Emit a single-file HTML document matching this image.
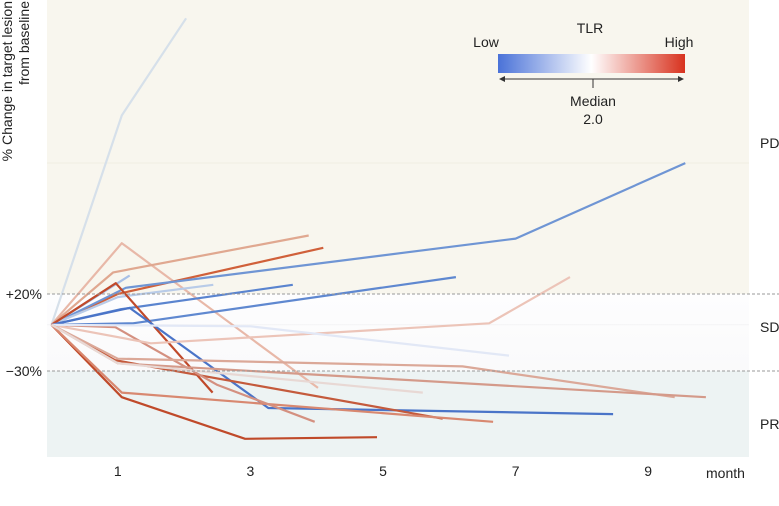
<!DOCTYPE html>
<html><head><meta charset="utf-8">
<style>
html,body{margin:0;padding:0;background:#fff;}
svg{display:block;font-family:"Liberation Sans",Arial,sans-serif;}
</style></head>
<body>
<svg id="chart" width="779" height="506" viewBox="0 0 779 506">
<defs>
<linearGradient id="sdg" x1="0" y1="0" x2="0" y2="1">
<stop offset="0" stop-color="#fdfdfe"/><stop offset="1" stop-color="#fafafb"/>
</linearGradient>
<linearGradient id="tlrg" x1="0" y1="0" x2="1" y2="0">
<stop offset="0" stop-color="#4a72d8"/><stop offset="0.5" stop-color="#ffffff"/><stop offset="1" stop-color="#d8321e"/>
</linearGradient>
</defs>
<g id="bands"></g>
<g id="lines"></g>
<g id="axes"></g>
<g>
<text x="590" y="33" font-size="14" text-anchor="middle" fill="#222">TLR</text>
<text x="486" y="47" font-size="14" text-anchor="middle" fill="#222">Low</text>
<text x="679" y="47" font-size="14" text-anchor="middle" fill="#222">High</text>
<rect x="498" y="54" width="187" height="19" fill="url(#tlrg)"/>
<line x1="500" y1="79" x2="683" y2="79" stroke="#333" stroke-width="1"/>
<path d="M499 79 l6 -3 v6 z M684 79 l-6 -3 v6 z" fill="#333"/>
<line x1="593" y1="79" x2="593" y2="88" stroke="#333" stroke-width="1"/>
<text x="593" y="106" font-size="14" text-anchor="middle" fill="#222">Median</text>
<text x="593" y="124" font-size="14" text-anchor="middle" fill="#222">2.0</text>
</g>
</svg>
<script>
const xTicks = [1, 3, 5, 7, 9];
const yRefLevels = [20, -30];
const yRefLabels = ["+20%", "\u221230%"];
const zoneLabels = ["PD", "SD", "PR"];
const seriesColors = ["#d6e0ea","#e8b8a8","#e0a890","#d0603a","#6f95d4","#a8c0e6","#b8cbe8","#5a84cf","#5f88d0","#c0492a","#4a74c8","#c04a2a","#c45a3c","#d88870","#d49080","#ecc4b8","#e2e8f6","#dba898","#d49a8a","#e8d8d4"];
const seriesMonths = [
 [0,1.06,2.03],[0,1.06,4.02],[0,0.93,3.88],[0,1,4.1],[0,1.12,7.0,9.56],
 [0,1.18],[0,1,2.44],[0,1.03,3.64],[0,1.23,6.1],[0,0.97,2.43],
 [0,1.18,3.27,8.47],[0,1.06,2.92,4.91],[0,0.96,5.9],[0,1.06,6.66],[0,0.96,2.5,3.97],
 [0,1.5,6.6,7.82],[0,3,6.9],[0,1,6.2,9.4],[0,1,9.87],[0,1,5.6]];
const seriesValues = [
 [0,136,199],[0,53,-41],[0,34,58],[0,20,50],[0,24,56,105],
 [0,32],[0,18,26],[0,10,26],[0,1,31],[0,27,-44],
 [0,11,-54,-58],[0,-47,-74,-73],[0,-23,-61],[0,-44,-63],[0,-1.5,-39,-63],
 [0,-12,1,31],[0,-1,-20],[0,-22,-27,-47],[0,-25,-47],[0,-25,-44]];

const NS="http://www.w3.org/2000/svg";
const X0=51.5, XS=66.3, Y0=324.8, YS=1.54;
const pLeft=47, pRight=749, pTop=0, pBottom=457;
const xs=m=>X0+XS*m, ys=v=>Y0-YS*v;
function mk(tag,attrs,parent){const e=document.createElementNS(NS,tag);for(const k in attrs)e.setAttribute(k,attrs[k]);parent.appendChild(e);return e;}
const bandsG=document.getElementById('bands'), axesG=document.getElementById('axes'), linesG=document.getElementById('lines');
const yTopRef=ys(yRefLevels[0]), yBotRef=ys(yRefLevels[1]);
let zb=mk('rect',{x:pLeft,y:pTop,width:pRight-pLeft,height:yTopRef-pTop,fill:'#f8f6ee'},bandsG);


zb=mk('rect',{x:pLeft,y:yTopRef,width:pRight-pLeft,height:yBotRef-yTopRef,fill:'url(#sdg)'},bandsG);


zb=mk('rect',{x:pLeft,y:yBotRef,width:pRight-pLeft,height:pBottom-yBotRef,fill:'#edf3f3'},bandsG);


mk('line',{x1:pLeft,y1:163,x2:pRight,y2:163,stroke:'#f0ede2','stroke-width':1},bandsG);
mk('line',{x1:pLeft,y1:ys(0),x2:pRight,y2:ys(0),stroke:'#f3f3f5','stroke-width':1},bandsG);
yRefLevels.forEach((v,i)=>{
 const l=mk('line',{x1:pLeft,y1:ys(v),x2:pRight+30,y2:ys(v),stroke:'#999','stroke-width':1,'stroke-dasharray':'3,2'},axesG);
 
 
 const t=mk('text',{x:42,y:ys(v)+5,'font-size':14,'text-anchor':'end',fill:'#222'},axesG);
 t.textContent=yRefLabels[i];
 
 
});
const zy=[148,332,429];
zoneLabels.forEach((z,i)=>{
 const t=mk('text',{x:760,y:zy[i],'font-size':14,fill:'#222'},axesG);
 t.textContent=z;
 
 
});
xTicks.forEach(m=>{
 const t=mk('text',{x:xs(m),y:476,'font-size':14,'text-anchor':'middle',fill:'#222'},axesG);
 t.textContent=m;
 
 
});
let tt=mk('text',{x:706,y:478,'font-size':14,fill:'#222'},axesG);
tt.textContent='month';


tt=mk('text',{x:-1,y:12,'font-size':14,'text-anchor':'end',fill:'#222',transform:'rotate(-90)'},axesG);
tt.textContent='% Change in target lesion';


tt=mk('text',{x:-1,y:29,'font-size':14,'text-anchor':'end',fill:'#222',transform:'rotate(-90)'},axesG);
tt.textContent='from baseline';


seriesMonths.forEach((ms,i)=>{
 const pts=ms.map((m,j)=>xs(m).toFixed(1)+','+ys(seriesValues[i][j]).toFixed(1)).join(' ');
 const p=mk('polyline',{points:pts,fill:'none',stroke:seriesColors[i],'stroke-width':2.2,'stroke-linejoin':'round'},linesG);
 
 
});
</script>
</body></html>
